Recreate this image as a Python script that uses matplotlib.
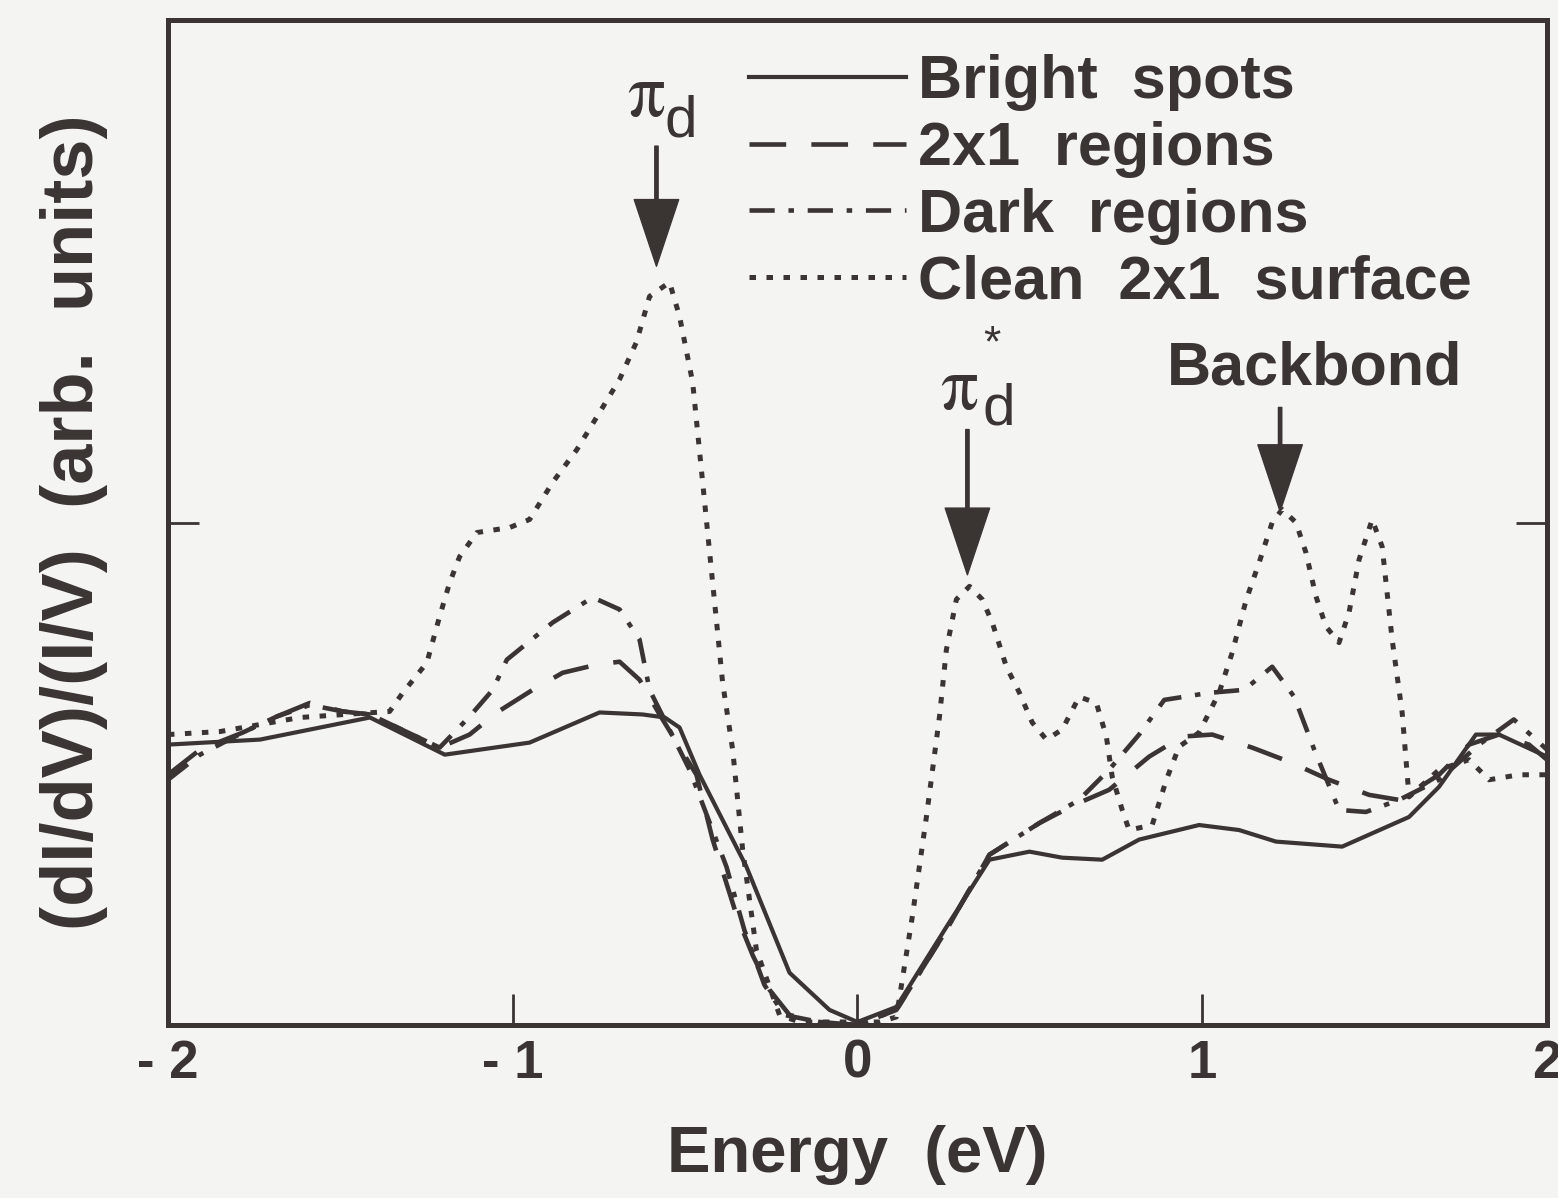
import matplotlib
matplotlib.use('Agg')
import matplotlib.pyplot as plt
import numpy as np

# energy (eV) and normalized conductance
bright_x = [-2.0, -1.733, -1.414, -1.197, -0.951, -0.748, -0.623, -0.559, -0.516, -0.458, -0.322, -0.197,
            -0.081, 0.0, 0.113, 0.258, 0.383, 0.499, 0.594, 0.71, 0.817, 0.991, 1.107, 1.214, 1.406,
            1.6, 1.687, 1.794, 1.861, 2.0]
bright_y = [0.558, 0.568, 0.612, 0.538, 0.562, 0.622, 0.618, 0.612, 0.592, 0.498, 0.315, 0.104,
            0.030, 0.006, 0.036, 0.195, 0.329, 0.345, 0.333, 0.329, 0.369, 0.398, 0.388, 0.365, 0.355,
            0.414, 0.474, 0.578, 0.578, 0.534]

r2x1_x = [-2.0, -1.907, -1.783, -1.684, -1.588, -1.493, -1.414, -1.212, -1.125, -1.046, -0.942, -0.855,
          -0.757, -0.690, -0.632, -0.574, -0.467, -0.420, -0.351, -0.304, -0.255, -0.197, -0.110, 0.0,
          0.113, 0.258, 0.383, 0.528, 0.629, 0.730, 0.846, 0.942, 1.029, 1.145, 1.252, 1.368, 1.484,
          1.571, 1.687, 1.774, 1.861, 1.948, 2.0]
r2x1_y = [0.498, 0.548, 0.582, 0.614, 0.641, 0.624, 0.618, 0.552, 0.578, 0.622, 0.667, 0.701,
          0.717, 0.723, 0.687, 0.618, 0.498, 0.369, 0.219, 0.139, 0.070, 0.020, 0.006, 0.0,
          0.030, 0.189, 0.339, 0.402, 0.438, 0.468, 0.534, 0.574, 0.578, 0.552, 0.524, 0.488, 0.458,
          0.448, 0.498, 0.558, 0.578, 0.558, 0.528]

dark_x = [-2.0, -1.907, -1.783, -1.684, -1.588, -1.493, -1.414, -1.212, -1.125, -1.058, -1.017, -0.884,
          -0.768, -0.690, -0.632, -0.603, -0.487, -0.380, -0.328, -0.270, -0.212, -0.110, 0.0,
          0.113, 0.258, 0.383, 0.528, 0.643, 0.730, 0.817, 0.890, 1.020, 1.122, 1.203, 1.267, 1.325,
          1.397, 1.475, 1.571, 1.687, 1.803, 1.904, 2.0]
dark_y = [0.488, 0.538, 0.582, 0.614, 0.637, 0.624, 0.618, 0.552, 0.614, 0.667, 0.727, 0.801,
          0.851, 0.827, 0.767, 0.667, 0.508, 0.315, 0.189, 0.080, 0.020, 0.006, 0.0,
          0.030, 0.189, 0.339, 0.402, 0.448, 0.508, 0.578, 0.647, 0.661, 0.667, 0.713, 0.653, 0.548,
          0.428, 0.424, 0.448, 0.488, 0.558, 0.608, 0.548]

clean_x = [-2.0, -1.849, -1.617, -1.357, -1.319, -1.249, -1.212, -1.183, -1.154, -1.104, -1.009, -0.951,
           -0.884, -0.814, -0.748, -0.690, -0.641, -0.603, -0.545, -0.516, -0.478, -0.449, -0.420,
           -0.391, -0.362, -0.333, -0.293, -0.226, -0.168, 0.064, 0.113, 0.159, 0.2, 0.238, 0.258,
           0.287, 0.325, 0.362, 0.391, 0.432, 0.470, 0.507, 0.548, 0.594, 0.643, 0.693, 0.722, 0.739,
           0.768, 0.788, 0.855, 0.896, 0.933, 0.991, 1.049, 1.087, 1.128, 1.165, 1.203, 1.232, 1.272,
           1.301, 1.330, 1.359, 1.397, 1.426, 1.455, 1.493, 1.522, 1.551, 1.580, 1.6, 1.687, 1.774,
           1.832, 1.919, 2.0]
clean_y = [0.578, 0.584, 0.612, 0.624, 0.661, 0.721, 0.813, 0.880, 0.932, 0.980, 0.990, 1.006,
           1.080, 1.145, 1.219, 1.285, 1.359, 1.450, 1.478, 1.410, 1.279, 1.080, 0.880,
           0.681, 0.548, 0.349, 0.149, 0.020, 0.006, 0.006, 0.016, 0.215, 0.414, 0.614, 0.747,
           0.847, 0.873, 0.847, 0.801, 0.713, 0.661, 0.602, 0.568, 0.588, 0.653, 0.641, 0.574, 0.494,
           0.428, 0.388, 0.398, 0.488, 0.554, 0.582, 0.661, 0.741, 0.847, 0.920, 1.0, 1.026, 1.0,
           0.940, 0.853, 0.793, 0.761, 0.821, 0.926, 1.006, 0.952, 0.767, 0.622, 0.454, 0.508, 0.528,
           0.488, 0.498, 0.498]

labels = ['Bright  spots', '2x1  regions', 'Dark  regions', 'Clean  2x1  surface']
xticks = [-2, -1, 0, 1, 2]
xtick_labels = ['- 2', '- 1', '0', '1', '2']

ink = '#3a3433'
bg = '#f4f4f2'
plt.rcParams['font.family'] = ['Liberation Sans', 'DejaVu Sans']

fig = plt.figure(figsize=(15.58, 11.98), dpi=100, facecolor=bg)
ax = fig.add_axes([0.1078, 0.1444, 0.9929 - 0.1078, 0.9833 - 0.1444])
ax.set_facecolor(bg)

lw = 3.0
ax.plot(bright_x, bright_y, color=ink, lw=lw, ls='-', label=labels[0])
ax.plot(r2x1_x, r2x1_y, color=ink, lw=lw + 0.3, ls=(0, (8, 5.5)), label=labels[1])
ax.plot(dark_x, dark_y, color=ink, lw=lw + 0.3, ls=(0, (5.5, 3, 1.2, 3)), label=labels[2])
ax.plot(clean_x, clean_y, color=ink, lw=lw + 0.6, ls=(0, (1.3, 2.1)), label=labels[3])

ax.set_xlim(-2, 2)
ax.set_ylim(0, 2)
ax.set_xticks(xticks)
ax.set_xticklabels(xtick_labels)
ax.set_yticks([1])
ax.set_yticklabels([])
ax.tick_params(axis='x', direction='in', length=22, width=2, colors=ink, labelsize=38,
               pad=10, labelcolor=ink)
ax.tick_params(axis='y', direction='in', length=22, width=2, colors=ink, right=True)
for lab in ax.get_xticklabels():
    lab.set_fontweight('bold')
for sp in ax.spines.values():
    sp.set_linewidth(3.6)
    sp.set_color(ink)

ax.set_xlabel('Energy  (eV)', fontsize=47, fontweight='bold', color=ink, labelpad=26)
ax.set_ylabel('(dI/dV)/(I/V)  (arb.  units)', fontsize=52, fontweight='bold', color=ink, labelpad=40)

leg = ax.legend(loc='upper left', bbox_to_anchor=(0.421, 0.966), frameon=False,
                handlelength=2.57, handletextpad=0.21, labelspacing=0.16,
                borderpad=0, borderaxespad=0, prop={'weight': 'bold', 'size': 44})
for t in leg.get_texts():
    t.set_color(ink)

# peak annotations
arrow_kw = dict(facecolor=ink, edgecolor=ink, width=2.4, headwidth=32, headlength=48, shrink=0)
ax.annotate('', xy=(-0.583, 1.510), xytext=(-0.583, 1.749), arrowprops=arrow_kw)
ax.annotate('', xy=(0.319, 0.896), xytext=(0.319, 1.185), arrowprops=arrow_kw)
ax.annotate('', xy=(1.226, 1.022), xytext=(1.226, 1.229), arrowprops=arrow_kw)

ax.text(-0.612, 1.809, '\u03c0', fontsize=54, family='STIXGeneral', color=ink, ha='center', va='baseline')
ax.text(-0.56, 1.769, 'd', fontsize=42, color=ink, ha='left', va='baseline')
ax.text(0.296, 1.225, '\u03c0', fontsize=54, family='STIXGeneral', color=ink, ha='center', va='baseline')
ax.text(0.362, 1.195, 'd', fontsize=42, color=ink, ha='left', va='baseline')
ax.text(0.391, 1.33, '*', fontsize=32, color=ink, ha='center', va='baseline')
ax.text(1.325, 1.275, 'Backbond', fontsize=44, fontweight='bold', color=ink, ha='center', va='baseline')

fig.savefig('out.png', dpi=100, facecolor=bg)
